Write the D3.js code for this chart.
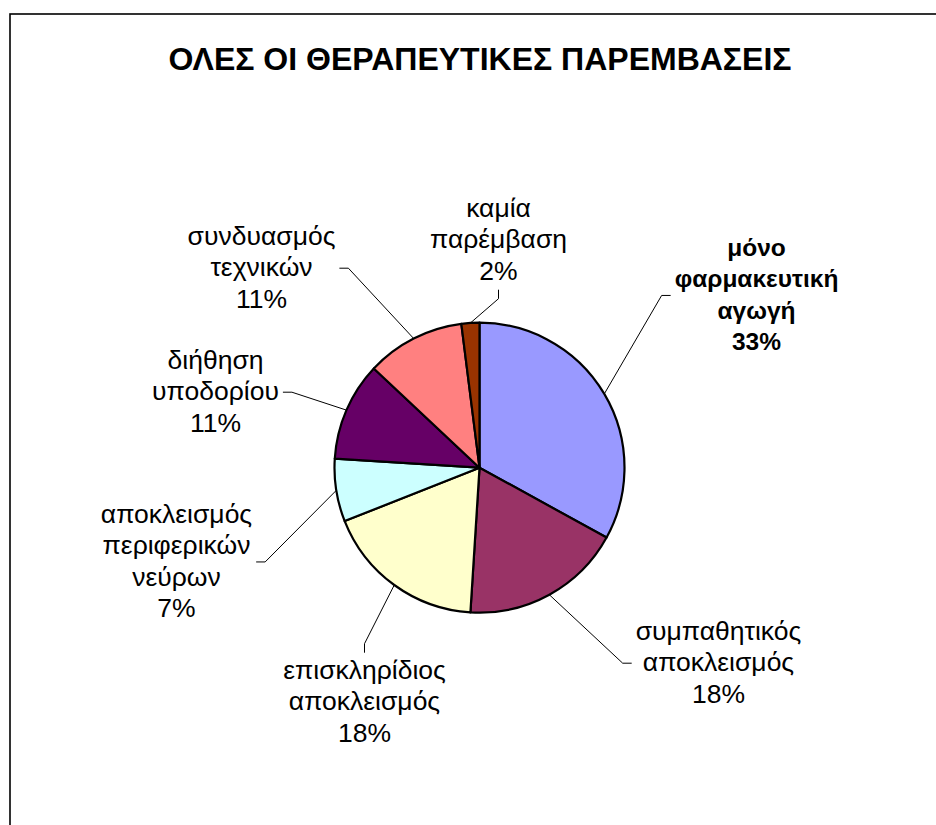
<!DOCTYPE html>
<html>
<head>
<meta charset="utf-8">
<script src="https://cdn.jsdelivr.net/npm/d3@7"></script>
<style>
  body { margin: 0; background: #fff; }
  text { font-family: Arial, "Liberation Sans", sans-serif; fill: #000; }
</style>
</head>
<body>
<svg id="chart" width="936" height="825"></svg>
<script>
// Chart content
const title = "ΟΛΕΣ ΟΙ ΘΕΡΑΠΕΥΤΙΚΕΣ ΠΑΡΕΜΒΑΣΕΙΣ";
const categories = [
  ["μόνο", "φαρμακευτική", "αγωγή"],
  ["συμπαθητικός", "αποκλεισμός"],
  ["επισκληρίδιος", "αποκλεισμός"],
  ["αποκλεισμός", "περιφερικών", "νεύρων"],
  ["διήθηση", "υποδορίου"],
  ["συνδυασμός", "τεχνικών"],
  ["καμία", "παρέμβαση"]
];
const values = [33, 18, 18, 7, 11, 11, 2];
const colors = ["#9999FF", "#993366", "#FFFFCC", "#CCFFFF", "#660066", "#FF8080", "#993300"];
const boldLabel = [true, false, false, false, false, false, false];

// Label placement: first-line baseline offset from the pie centre and the
// side of the label box where the leader line attaches.
const labelLayout = [
  { dx: 277, dy: -212, side: "left" },
  { dx: 239, dy: 172, side: "left" },
  { dx: -115, dy: 211, side: "top" },
  { dx: -303, dy: 55, side: "right" },
  { dx: -264, dy: -99, side: "right" },
  { dx: -218, dy: -223, side: "right" },
  { dx: 19, dy: -251, side: "bottom" }
];

const W = 936, H = 825;
const cx = 479.5, cy = 467.7, R = 145;
const fontSize = 26.5, boldSize = 24.5, lineGap = 31.5;

const svg = d3.select("#chart");

// outer frame
svg.append("rect")
  .attr("x", 10).attr("y", 14)
  .attr("width", 1000).attr("height", 1000)
  .attr("fill", "#fff").attr("stroke", "#000").attr("stroke-width", 1.6);

// title
svg.append("text")
  .attr("x", 480).attr("y", 70)
  .attr("text-anchor", "middle")
  .style("font-size", "32px").style("font-weight", "bold")
  .text(title);

const total = d3.sum(values);
const pie = d3.pie().sort(null).value(d => d)(values);
const arc = d3.arc().innerRadius(0).outerRadius(R);

const g = svg.append("g").attr("transform", `translate(${cx},${cy})`);

g.selectAll("path.slice")
  .data(pie)
  .join("path")
  .attr("class", "slice")
  .attr("d", arc)
  .attr("fill", (d, i) => colors[i])
  .attr("stroke", "#000")
  .attr("stroke-width", 2.2)
  .attr("stroke-linejoin", "round");

// labels + leader lines
const stub = 9, padH = 4, padV = 8;
pie.forEach((d, i) => {
  const lay = labelLayout[i];
  const lines = categories[i].concat([Math.round(d.value / total * 100) + "%"]);
  const t = g.append("text")
    .attr("text-anchor", "middle")
    .style("font-size", (boldLabel[i] ? boldSize : fontSize) + "px")
    .style("font-weight", boldLabel[i] ? "bold" : "normal");
  lines.forEach((ln, k) => {
    t.append("tspan").attr("x", lay.dx).attr("y", lay.dy + k * lineGap).text(ln);
  });
  const bb = t.node().getBBox();
  const x0 = bb.x - padH, x1 = bb.x + bb.width + padH;
  const y0 = bb.y - padV + 6, y1 = bb.y + bb.height + padV - 4;
  const mx = (x0 + x1) / 2, my = (y0 + y1) / 2;
  let a, b;
  if (lay.side === "left") { a = [x0, my]; b = [x0 - stub, my]; }
  else if (lay.side === "right") { a = [x1, my]; b = [x1 + stub, my]; }
  else if (lay.side === "top") { a = [mx, y0]; b = [mx, y0 - stub]; }
  else { a = [mx, y1]; b = [mx, y1 + stub]; }
  const mid = (d.startAngle + d.endAngle) / 2;
  const edge = [R * Math.sin(mid), -R * Math.cos(mid)];
  g.insert("path", "path.slice")
    .attr("d", d3.line()([a, b, edge]))
    .attr("fill", "none")
    .attr("stroke", "#000")
    .attr("stroke-width", 1);
});
</script>
</body>
</html>
